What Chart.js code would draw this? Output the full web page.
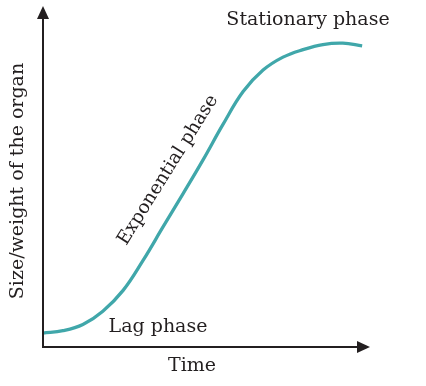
<!DOCTYPE html>
<html>
<head>
<meta charset="utf-8">
<script src="https://cdn.jsdelivr.net/npm/chart.js@4.4.0/dist/chart.umd.min.js"></script>
<style>
  html, body { margin: 0; padding: 0; background: #fff; }
  #wrap { width: 426px; height: 386px; }
</style>
</head>
<body>
<div id="wrap"><canvas id="growthChart" width="426" height="386"></canvas></div>
<script>
// time (arbitrary units) and size/weight (arbitrary units)
const timeValues = [0, 6.1, 12.2, 18.3, 24.5, 30.6, 36.7, 42.8, 48.9, 55.0, 61.2, 67.3, 73.4, 79.5, 85.6, 91.7, 97.6];
const sizeValues = [4.1, 4.8, 6.6, 10.5, 16.6, 25.4, 35.2, 44.9, 54.8, 65.2, 74.9, 81.2, 85.0, 87.2, 88.7, 89.1, 88.3];
const phaseLabels = ['Lag phase', 'Exponential phase', 'Stationary phase'];
const xAxisTitle = 'Time';
const yAxisTitle = 'Size/weight of the organ';

const serif = '"DejaVu Serif", "Liberation Serif", serif';
const ink = '#231f20';

// axes with arrow heads + text labels
const axesAndLabels = {
    id: 'axesAndLabels',
    afterDraw(chart) {
        const c = chart.ctx;
        const a = chart.chartArea;
        c.save();
        c.strokeStyle = ink;
        c.fillStyle = ink;
        c.lineWidth = 2;
        c.beginPath();
        c.moveTo(a.left, a.top + 8);
        c.lineTo(a.left, a.bottom);
        c.lineTo(a.right - 8, a.bottom);
        c.stroke();
        // arrow heads
        c.beginPath();
        c.moveTo(a.left, a.top);
        c.lineTo(a.left - 6, a.top + 13);
        c.lineTo(a.left + 6, a.top + 13);
        c.closePath();
        c.fill();
        c.beginPath();
        c.moveTo(a.right, a.bottom);
        c.lineTo(a.right - 13, a.bottom - 6);
        c.lineTo(a.right - 13, a.bottom + 6);
        c.closePath();
        c.fill();

        c.textAlign = 'center';
        c.textBaseline = 'middle';
        c.font = '19px ' + serif;
        c.fillText(phaseLabels[0], 158, 327);
        c.fillText(phaseLabels[2], 308, 20);
        c.fillText(xAxisTitle, 192, 366);

        c.save();
        c.translate(168, 170);
        c.rotate(-58 * Math.PI / 180);
        c.font = '18.5px ' + serif;
        c.fillText(phaseLabels[1], 0, 0);
        c.restore();

        c.save();
        c.translate(18, 181);
        c.rotate(-Math.PI / 2);
        c.fillText(yAxisTitle, 0, 0);
        c.restore();
        c.restore();
    }
};

new Chart(document.getElementById('growthChart').getContext('2d'), {
    type: 'line',
    data: {
        datasets: [{
            data: timeValues.map((t, i) => ({ x: t, y: sizeValues[i] })),
            borderColor: '#40a7aa',
            borderWidth: 3.3,
            pointRadius: 0,
            tension: 0.4,
            fill: false,
            clip: false
        }]
    },
    options: {
        responsive: false,
        animation: false,
        layout: { padding: { left: 43, top: 6, right: 56, bottom: 39 } },
        plugins: { legend: { display: false }, tooltip: { enabled: false } },
        scales: {
            x: { type: 'linear', min: 0, max: 100, display: false },
            y: { min: 0, max: 100, display: false }
        }
    },
    plugins: [axesAndLabels]
});
</script>
</body>
</html>
